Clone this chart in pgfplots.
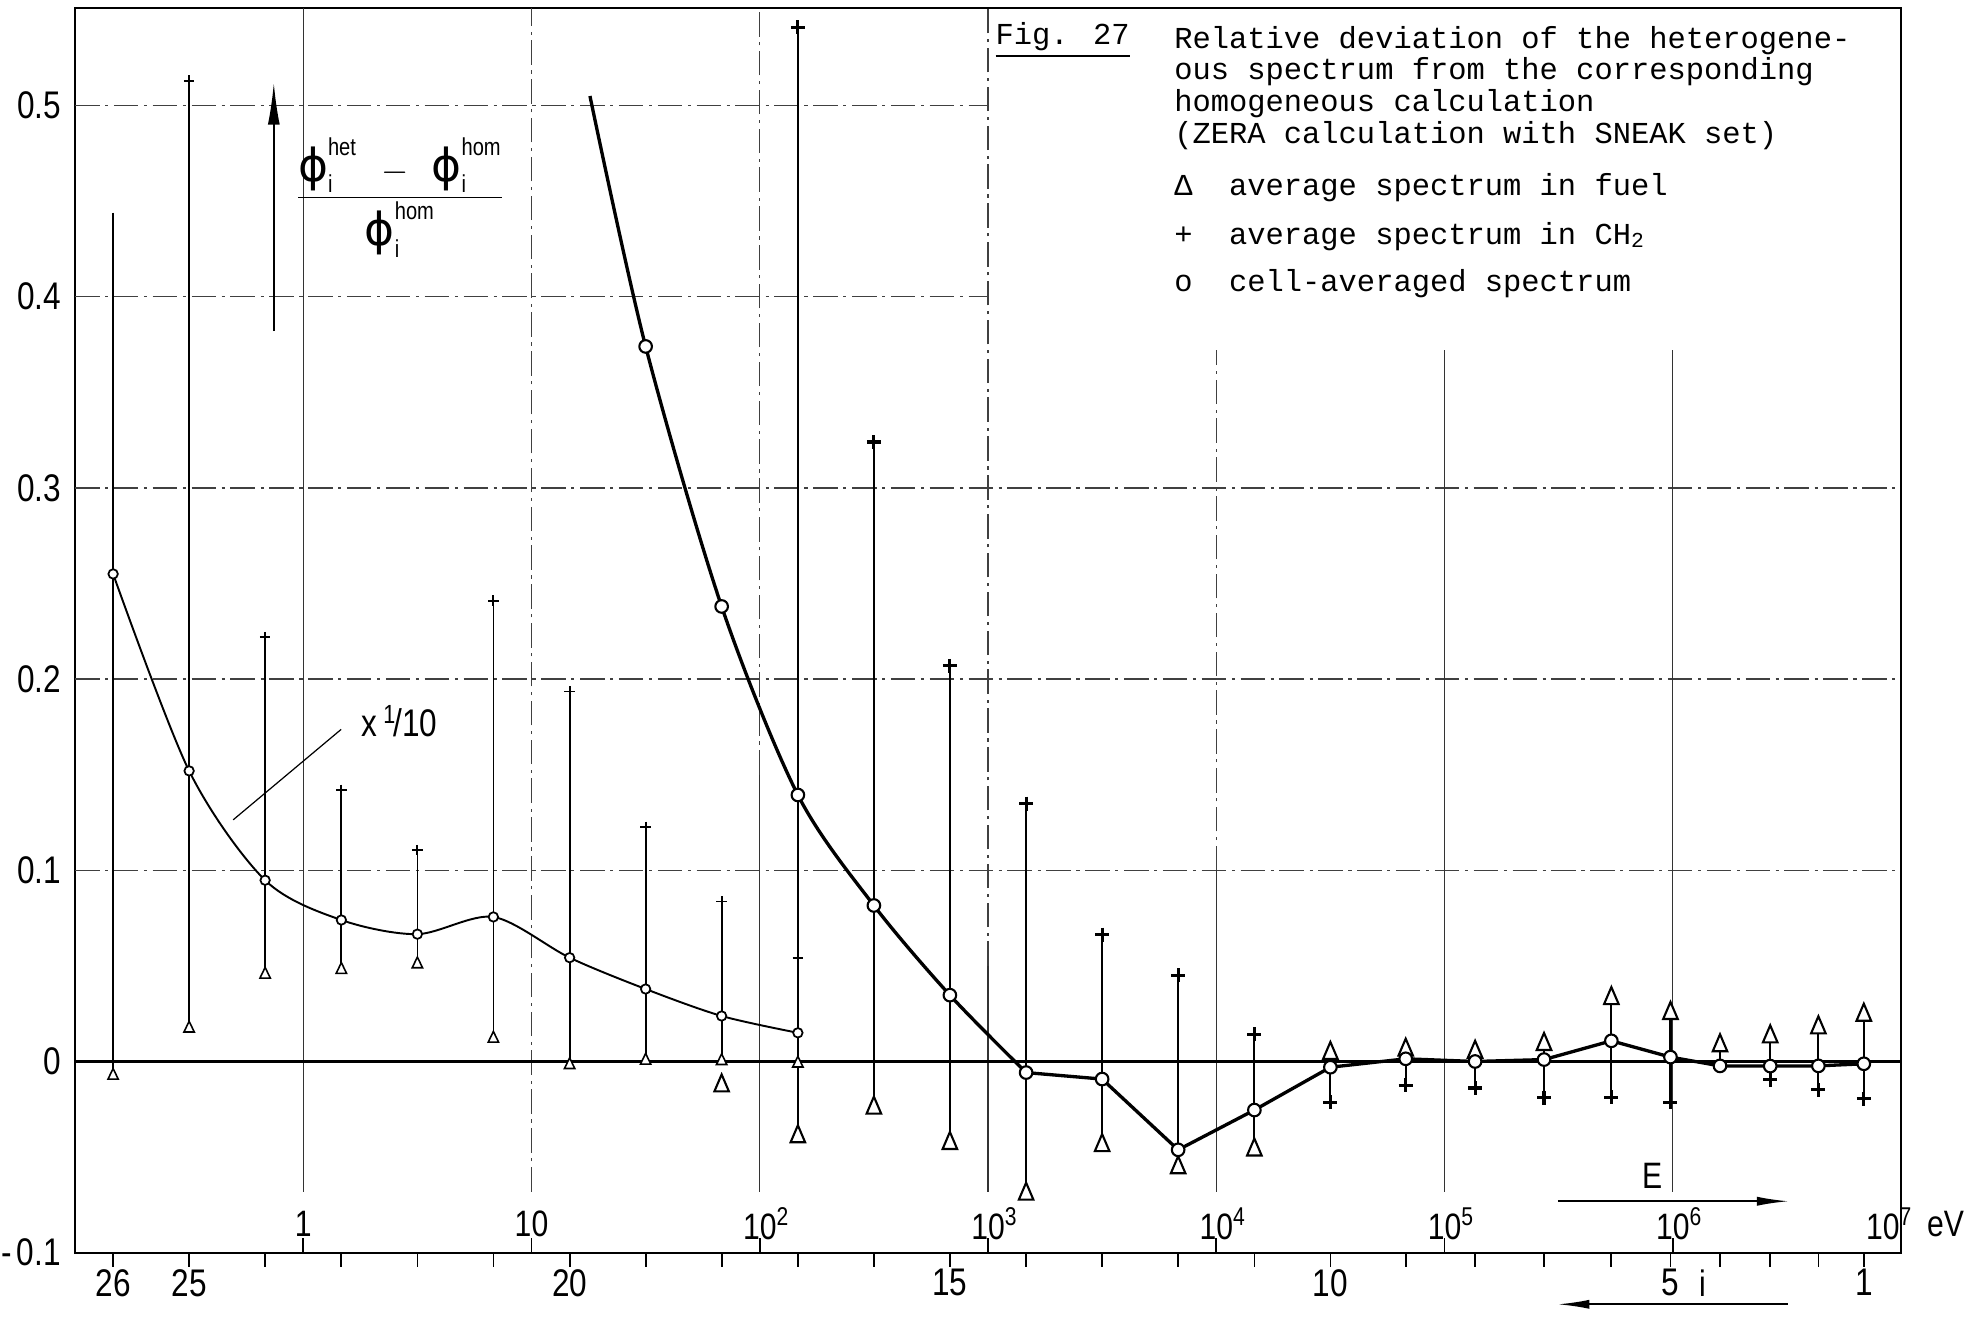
\documentclass[border=0pt]{standalone}
\usepackage{fontspec}
\setmainfont[FakeStretch=0.82]{Liberation Sans}
\setsansfont[FakeStretch=0.82]{Liberation Sans}
\newfontfamily\mono{Liberation Mono}
\newfontfamily\dejavu{DejaVu Sans}
\usepackage{pgfplots}
\usepackage{pgfplotstable}
\pgfplotsset{compat=1.18}
\usetikzlibrary{arrows.meta}

% groups 26..17, values divided by 10 (curve "x 1/10")
\pgfplotstableread{
x fuel ch2 cell
-0.833 -0.0074 0.444 0.255
-0.5 0.0173 0.513 0.152
-0.167 0.0455 0.222 0.0948
0.167 0.048 0.142 0.074
0.5 0.0509 0.1105 0.0666
0.833 0.012 0.241 0.0756
1.167 -0.0018 0.1935 0.0543
1.5 0.0005 0.1227 0.0379
1.833 0.0003 0.0837 0.0238
2.167 -0.001 0.0543 0.015
}\scaledset

% groups 17..1, true values
\pgfplotstableread{
x fuel ch2
2.167 -0.0393 0.541
2.5 -0.0243 0.324
2.833 -0.0428 0.2069
3.167 -0.0693 0.1349
3.5 -0.0439 0.0663
3.833 -0.0555 0.0451
4.167 -0.0462 0.0143
4.5 0.0043 -0.0214
4.83 0.006 -0.0125
5.134 0.0049 -0.0139
5.436 0.009 -0.019
5.731 0.033 -0.0188
5.99 0.0252 -0.0214
6.207 0.0083 -0.0023
6.427 0.013 -0.0095
6.638 0.0177 -0.0148
6.837 0.0243 -0.0194
}\fullset

% cell-averaged, true values (first row: where the curve enters the frame)
\pgfplotstableread{
x cell
1.256 0.505
1.5 0.374
1.833 0.238
2.167 0.1394
2.5 0.0816
2.833 0.0347
3.167 -0.0058
3.5 -0.0092
3.833 -0.0462
4.167 -0.0254
4.5 -0.003
4.83 0.0014
5.134 0.0
5.436 0.001
5.731 0.0108
5.99 0.0023
6.207 -0.0023
6.427 -0.0024
6.638 -0.0023
6.837 -0.0012
}\cellset

\tikzset{
  dd/.style={line width=0.4pt, black!75, dash pattern=on 7pt off 1.6pt on 0.9pt off 1.6pt},
  sl/.style={line width=0.4pt, black!80},
  lab/.style={font=\fontsize{10.5}{12}\selectfont},
  mt/.style={font=\mono\fontsize{8.7}{10}\selectfont, anchor=west, inner sep=0pt},
}
\newcommand{\ph}{\mbox{\dejavu\fontsize{13}{15}\selectfont ϕ}}
\newcommand{\sm}[1]{\mbox{\fontsize{7}{8}\selectfont #1}}

\begin{document}
\begin{tikzpicture}
\begin{axis}[
  name=ax,
  scale only axis,
  width=521.7pt, height=355.6pt,
  xmin=-1, xmax=7, ymin=-0.1, ymax=0.551,
  clip=false,
  axis line style={line width=0.6pt},
  xtick={-0.833,-0.5,-0.167,0.167,0.5,0.833,1.167,1.5,1.833,2.167,2.5,2.833,3.167,3.5,3.833,4.167,4.5,4.83,5.134,5.436,5.731,5.99,6.207,6.427,6.638,6.837},
  xticklabels={26,25,{},{},{},{},20,{},{},{},{},15,{},{},{},{},10,{},{},{},{},5,{},{},{},1},
  xtick pos=bottom,
  ytick pos=left,
  xtick align=outside,
  major tick length=4pt,
  xtick style={line width=0.5pt, black},
  ytick={-0.1,0,0.1,0.2,0.3,0.4,0.5},
  yticklabels={-\kern0.12em0.1,0,0.1,0.2,0.3,0.4,0.5},
  ytick style={draw=none},
  ticklabel style={font=\fontsize{11}{13}\selectfont},
  xticklabel style={yshift=2.8pt},
  yticklabel style={xshift=-0.5pt},
]
% grid lines
\foreach \yy in {0.1,0.2,0.3} {\edef\tmp{\noexpand\draw[dd] (axis cs:-1,\yy) -- (axis cs:7,\yy);}\tmp}
\foreach \yy in {0.4,0.5} {\edef\tmp{\noexpand\draw[dd] (axis cs:-1,\yy) -- (axis cs:3,\yy);}\tmp}
\draw[sl] (axis cs:0,-0.068) -- (axis cs:0,0.551);
\draw[dd] (axis cs:1,-0.068) -- (axis cs:1,0.551);
\draw[dd] (axis cs:2,0.15) -- (axis cs:2,0.551);
\draw[sl] (axis cs:2,-0.068) -- (axis cs:2,0.15);
\draw[dd] (axis cs:3,0.05) -- (axis cs:3,0.551);
\draw[sl] (axis cs:3,-0.068) -- (axis cs:3,0.05);
\draw[dd] (axis cs:4,0.1) -- (axis cs:4,0.372);
\draw[sl] (axis cs:4,-0.068) -- (axis cs:4,0.1);
\draw[sl] (axis cs:5,-0.068) -- (axis cs:5,0.372);
\draw[sl] (axis cs:6,-0.068) -- (axis cs:6,0.372);
\foreach \k in {0,...,6} {\edef\tmp{\noexpand\draw[line width=0.5pt] (axis cs:\k,-0.1) -- (axis cs:\k,-0.0925);}\tmp}
% zero line
\draw[line width=1pt] (axis cs:-1,0) -- (axis cs:7,0);

% energy labels
\node[lab] at (axis cs:0,-0.085) {1};
\node[lab] at (axis cs:1,-0.085) {10};
\node[lab] at (axis cs:2.03,-0.085) {10\textsuperscript{2}};
\node[lab] at (axis cs:3.03,-0.085) {10\textsuperscript{3}};
\node[lab] at (axis cs:4.03,-0.085) {10\textsuperscript{4}};
\node[lab] at (axis cs:5.03,-0.085) {10\textsuperscript{5}};
\node[lab] at (axis cs:6.03,-0.085) {10\textsuperscript{6}};
\node[lab] (e7) at (axis cs:6.95,-0.085) {10\textsuperscript{7}};
\node[lab, anchor=west, inner sep=0pt] at ([xshift=0.3pt]e7.east) {eV};
\node[lab] at (axis cs:5.91,-0.060) {E};
\node[lab] at (axis cs:6.13,-0.116) {i};
\node[font=\fontsize{11}{13}\selectfont] at (axis cs:0.42,0.178) {x\,\raisebox{0.6ex}{\fontsize{7.5}{8}\selectfont 1}\kern-0.05em/10};
\draw[line width=0.5pt, -{Latex[length=9pt,width=2.6pt]}] (axis cs:5.497,-0.0731) -- (axis cs:6.507,-0.0731);
\draw[line width=0.5pt, {Latex[length=9pt,width=2.6pt]}-] (axis cs:5.497,-0.127) -- (axis cs:6.507,-0.127);
% leader line for x 1/10
\draw[line width=0.35pt] (axis cs:-0.307,0.1264) -- (axis cs:0.166,0.1737);
% upward arrow
\draw[line width=0.6pt, -{Latex[length=12pt,width=3.4pt]}] (axis cs:-0.129,0.382) -- (axis cs:-0.129,0.512);
% fraction label
\node at (axis cs:0.425,0.452) {$\displaystyle\frac{\ph_{\sm{i}}^{\sm{het}}\;\,-\;\,\ph_{\sm{i}}^{\sm{hom}}}{\ph_{\sm{i}}^{\sm{hom}}}$};

% legend / caption text
\node[mt] at (axis cs:3.03,0.534) {\underline{Fig. 27}};
\node[mt] at (axis cs:3.813,0.534) {Relative deviation of the heterogene-};
\node[mt] at (axis cs:3.813,0.5175) {ous spectrum from the corresponding};
\node[mt] at (axis cs:3.813,0.501) {homogeneous calculation};
\node[mt] at (axis cs:3.813,0.4845) {(ZERA calculation with SNEAK set)};
\node[mt] at (axis cs:3.813,0.457) {Δ~~average spectrum in fuel};
\node[mt] at (axis cs:3.813,0.4316) {+~~average spectrum in CH\textsubscript{2}};
\node[mt] at (axis cs:3.813,0.4066) {o~~cell-averaged spectrum};

% ---- scaled (x 1/10) groups 26..17 ----
\addplot[draw=none, mark=none, forget plot,
  error bars/.cd, y dir=minus, y explicit, error mark=none,
  error bar style={line width=0.5pt, black}]
  table[x=x, y=ch2, y error expr=\thisrow{ch2}-\thisrow{fuel}] {\scaledset};
\addplot[smooth, line width=0.55pt, black, mark=none] table[x=x, y=cell] {\scaledset};
\addplot[only marks, mark=triangle*, mark size=1.7pt,
  mark options={fill=white, draw=black, line width=0.45pt, yscale=1.2}]
  table[x=x, y=fuel] {\scaledset};
\addplot[only marks, mark=+, mark size=1.5pt, mark options={line width=0.55pt, black},
  skip coords between index={0}{1}]
  table[x=x, y=ch2] {\scaledset};
\addplot[only marks, mark=*, mark size=1.35pt,
  mark options={fill=white, draw=black, line width=0.5pt}]
  table[x=x, y=cell] {\scaledset};

% ---- true values, groups 17..1 ----
\addplot[draw=none, mark=none, forget plot,
  error bars/.cd, y dir=minus, y explicit, error mark=none,
  error bar style={line width=0.6pt, black}]
  table[x=x, y=ch2, y error expr=\thisrow{ch2}-\thisrow{fuel}] {\fullset};
\addplot[smooth, line width=0.95pt, black, mark=none,
  skip coords between index={7}{30}] table[x=x, y=cell] {\cellset};
\addplot[line width=0.95pt, black, mark=none,
  skip coords between index={0}{6}] table[x=x, y=cell] {\cellset};
\addplot[only marks, mark=triangle*, mark size=2.4pt,
  mark options={fill=white, draw=black, line width=0.6pt, yscale=1.35}]
  table[x=x, y=fuel] {\fullset};
\addplot[only marks, mark=triangle*, mark size=2.4pt,
  mark options={fill=white, draw=black, line width=0.6pt, yscale=1.35}]
  coordinates {(1.833,-0.0127)};
\addplot[only marks, mark=+, mark size=2pt, mark options={line width=0.9pt, black}]
  table[x=x, y=ch2] {\fullset};
\addplot[only marks, mark=*, mark size=1.8pt,
  mark options={fill=white, draw=black, line width=0.6pt},
  skip coords between index={0}{1}]
  table[x=x, y=cell] {\cellset};

\coordinate (bbSW) at (axis cs:-1.3286,-0.134);
\coordinate (bbNE) at (axis cs:7.3286,0.5552);
\end{axis}
\pgfresetboundingbox
\useasboundingbox (bbSW) rectangle (bbNE);
\end{tikzpicture}
\end{document}
